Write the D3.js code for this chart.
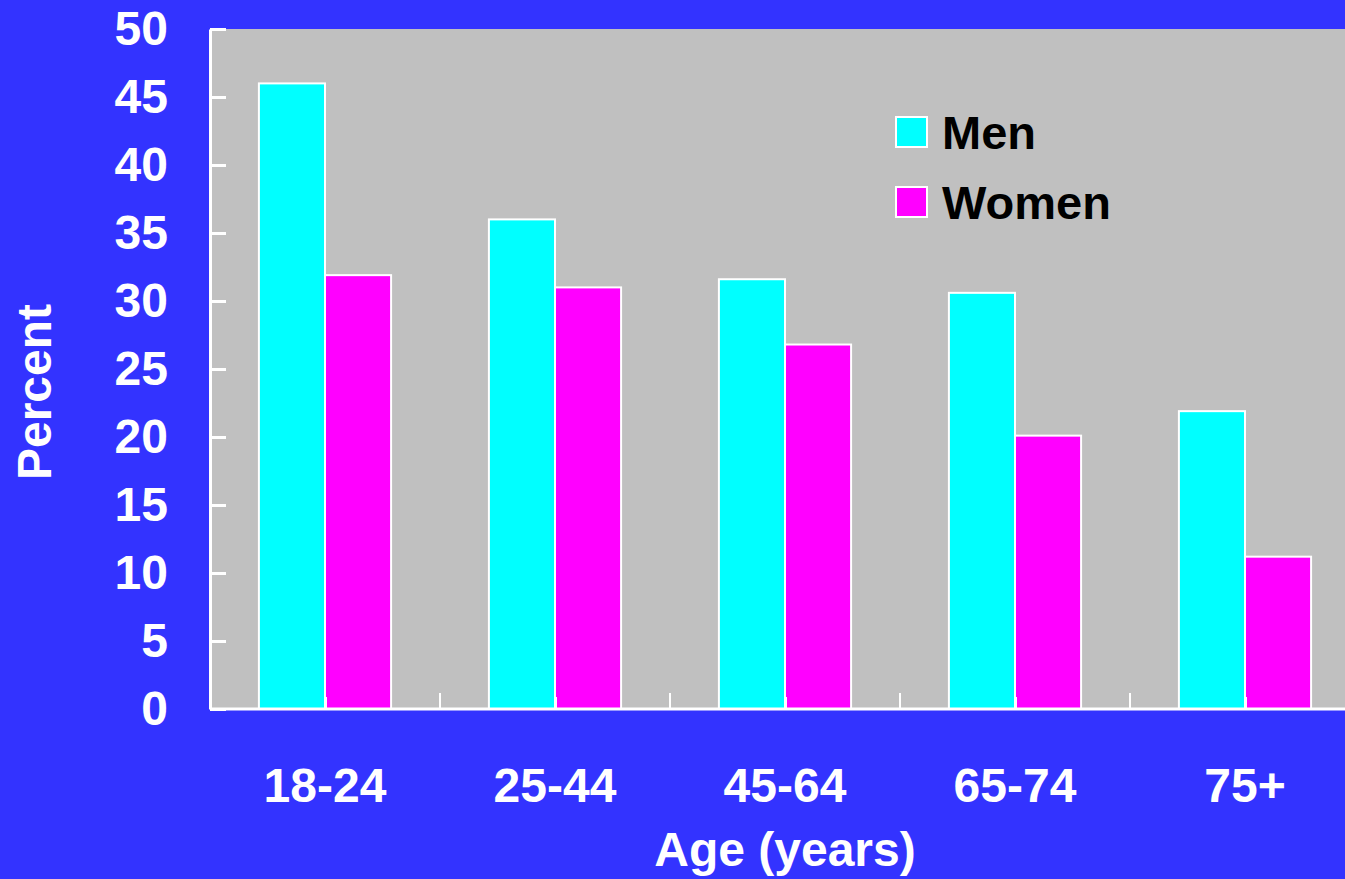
<!DOCTYPE html>
<html>
<head>
<meta charset="utf-8">
<script src="https://cdn.jsdelivr.net/npm/d3@7"></script>
<style>
  html, body { margin: 0; padding: 0; background: #3333ff; }
  svg { display: block; }
  text { font-family: "Liberation Sans", Arial, sans-serif; font-weight: bold; }
</style>
</head>
<body>
<svg id="chart" width="1345" height="879"></svg>
<script>
// Age groups and percentages by sex
const ageGroups = ["18-24", "25-44", "45-64", "65-74", "75+"];
const menValues = [46.0, 36.0, 31.6, 30.6, 21.9];
const womenValues = [31.9, 31.0, 26.8, 20.1, 11.2];
const seriesNames = ["Men", "Women"];
const seriesColors = ["#00ffff", "#ff00ff"];
const yTicks = [0, 5, 10, 15, 20, 25, 30, 35, 40, 45, 50];

const svg = d3.select("#chart");
const W = 1345, H = 879;
const plotLeft = 210, plotRight = 1360, plotTop = 29, plotBottom = 709;

svg.append("rect").attr("width", W).attr("height", H).attr("fill", "#3333ff");

const x = d3.scaleBand().domain(ageGroups).range([plotLeft, plotRight]).paddingInner(0).paddingOuter(0);
const xInner = d3.scaleBand().domain(seriesNames).range([0, x.bandwidth()]).paddingInner(0).paddingOuter(0.74);
const y = d3.scaleLinear().domain([0, 50]).range([plotBottom, plotTop]);

// plot background
svg.append("rect").attr("x", plotLeft).attr("y", plotTop)
  .attr("width", plotRight - plotLeft).attr("height", plotBottom - plotTop)
  .attr("fill", "#c0c0c0");

// bars
const rows = ageGroups.map((g, i) => ({ group: g, values: [menValues[i], womenValues[i]] }));
const groups = svg.append("g").selectAll("g").data(rows).join("g")
  .attr("transform", d => `translate(${x(d.group)},0)`);
groups.selectAll("rect").data(d => d.values.map((v, j) => ({ name: seriesNames[j], value: v, color: seriesColors[j] })))
  .join("rect")
  .attr("x", d => xInner(d.name))
  .attr("y", d => y(d.value))
  .attr("width", xInner.bandwidth())
  .attr("height", d => y(0) - y(d.value))
  .attr("fill", d => d.color)
  .attr("stroke", "#ffffff")
  .attr("stroke-width", 2);

// y axis: ticks point inward into the plot
const yAxis = svg.append("g").attr("transform", `translate(${plotLeft},0)`)
  .call(d3.axisLeft(y).tickValues(yTicks).tickSize(-16).tickPadding(42).tickSizeOuter(0));
yAxis.select(".domain").attr("stroke", "#fff").attr("stroke-width", 3);
yAxis.selectAll(".tick line").attr("stroke", "#fff").attr("stroke-width", 3);
yAxis.selectAll(".tick text").attr("fill", "#fff").attr("font-size", 48).attr("dy", "0.33em");

// x axis baseline with boundary ticks
const xAxisG = svg.append("g");
xAxisG.append("line").attr("x1", plotLeft).attr("x2", W).attr("y1", plotBottom).attr("y2", plotBottom)
  .attr("stroke", "#fff").attr("stroke-width", 3);
const boundaries = ageGroups.map(g => x(g)).concat([x(ageGroups[ageGroups.length - 1]) + x.bandwidth()]);
xAxisG.selectAll("line.major").data(boundaries).join("line").attr("class", "major")
  .attr("x1", d => d).attr("x2", d => d).attr("y1", plotBottom).attr("y2", plotBottom - 16)
  .attr("stroke", "#fff").attr("stroke-width", 2);
xAxisG.selectAll("line.minor").data(ageGroups).join("line").attr("class", "minor")
  .attr("x1", d => x(d) + x.bandwidth() / 2 + 1).attr("x2", d => x(d) + x.bandwidth() / 2 + 1)
  .attr("y1", plotBottom).attr("y2", plotBottom - 12)
  .attr("stroke", "#fff").attr("stroke-width", 2);
xAxisG.selectAll("text").data(ageGroups).join("text")
  .attr("x", d => x(d) + x.bandwidth() / 2).attr("y", 802)
  .attr("text-anchor", "middle").attr("fill", "#fff").attr("font-size", 48)
  .text(d => d);

// axis titles
svg.append("text").attr("x", (plotLeft + plotRight) / 2).attr("y", 866).attr("text-anchor", "middle")
  .attr("fill", "#fff").attr("font-size", 48).text("Age (years)");
svg.append("text").attr("transform", "translate(51,392) rotate(-90)").attr("text-anchor", "middle")
  .attr("fill", "#fff").attr("font-size", 48).text("Percent");

// legend
const legend = svg.append("g").selectAll("g").data(seriesNames).join("g")
  .attr("transform", (d, i) => `translate(896,${117 + i * 70})`);
legend.append("rect").attr("width", 31).attr("height", 30)
  .attr("fill", (d, i) => seriesColors[i]).attr("stroke", "#fff").attr("stroke-width", 2);
legend.append("text").attr("x", 46).attr("y", 32).attr("fill", "#000").attr("font-size", 47)
  .text(d => d);
</script>
</body>
</html>
